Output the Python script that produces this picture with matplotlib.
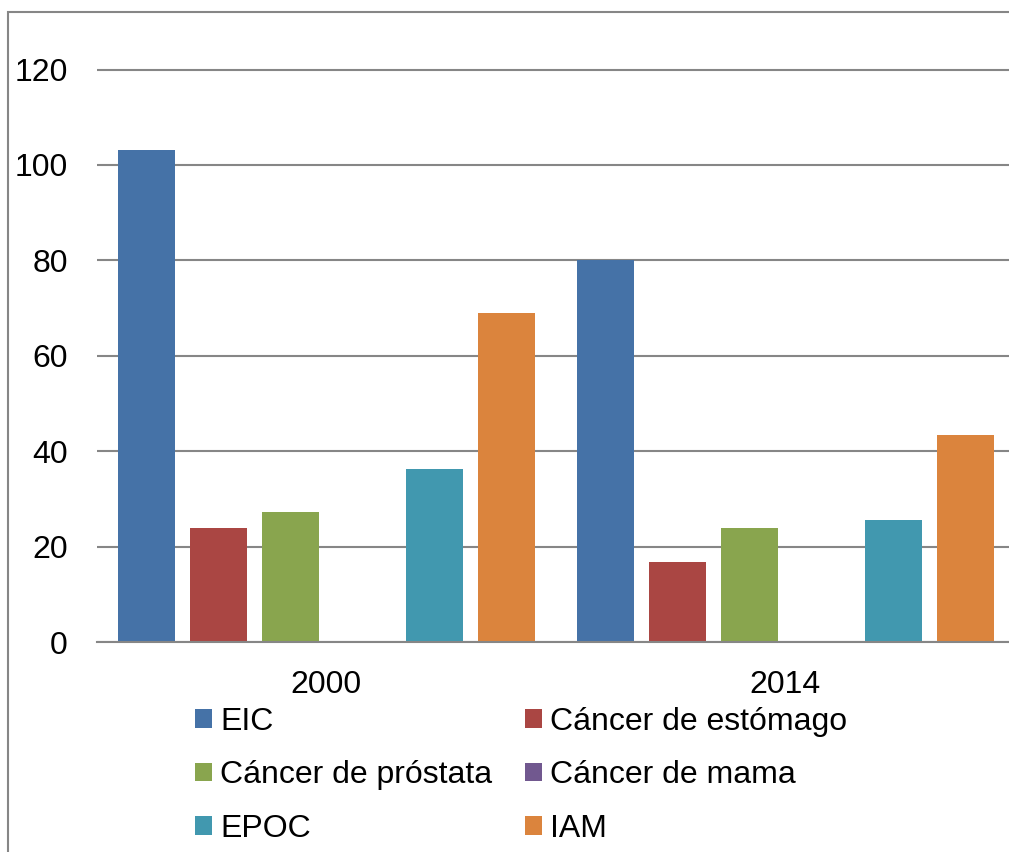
import matplotlib.pyplot as plt
import numpy as np
from matplotlib.patches import Rectangle, Patch

plt.rcParams['font.family'] = ['Liberation Sans', 'DejaVu Sans']

# Data
years = ['2000', '2014']
series = ['EIC', 'Cáncer de estómago', 'Cáncer de próstata', 'Cáncer de mama', 'EPOC', 'IAM']
values = {
    'EIC': [103.2, 80.1],
    'Cáncer de estómago': [23.9, 16.8],
    'Cáncer de próstata': [27.3, 23.9],
    'Cáncer de mama': [0, 0],
    'EPOC': [36.3, 25.6],
    'IAM': [69.0, 43.4],
}
colors = ['#4572A7', '#AA4643', '#89A54E', '#71588F', '#4198AF', '#DB843D']

W, H = 1009, 852
fig = plt.figure(figsize=(W / 100, H / 100), dpi=100)

# outer chart frame (right and bottom edges fall outside the picture)
fig.patches.append(Rectangle((8 / W, -0.1), 1.2, (H - 12) / H + 0.1, transform=fig.transFigure,
                             fill=False, edgecolor='#868686', linewidth=1.5))

y_top = 120.5
px_per_unit = (642 - 69.5) / 120
top_px = 642 - y_top * px_per_unit
ax = fig.add_axes([97 / W, (H - 642) / H, (1014.5 - 97) / W, (642 - top_px) / H])

x = np.arange(len(years))
step = 0.157
width = 0.124
handles = []
for i, (name, color) in enumerate(zip(series, colors)):
    ax.bar(x + (i - 2.5) * step, values[name], width=width, color=color, zorder=3)
    handles.append(Patch(facecolor=color, label=name))

ax.set_xlim(-0.5, 1.5)
ax.set_ylim(0, y_top)
ax.set_yticks(np.arange(0, 121, 20))
ax.set_xticks(x)
ax.set_xticklabels(years)
ax.tick_params(axis='y', length=0, pad=21, labelsize=23)
ax.tick_params(axis='x', length=0, pad=20, labelsize=23)
ax.yaxis.grid(True, color='#868686', linewidth=1.5, zorder=0)
for side in ['left', 'right', 'top']:
    ax.spines[side].set_visible(False)
ax.spines['bottom'].set_color('#868686')
ax.spines['bottom'].set_linewidth(1.5)
ax.spines['bottom'].set_zorder(4)

# legend, row-major order like the original
order = [0, 2, 4, 1, 3, 5]
fig.legend([handles[k] for k in order], [series[k] for k in order],
           ncol=2, loc='upper left', bbox_to_anchor=(195 / W, (H - 707) / H),
           frameon=False, fontsize=23, handlelength=0.53, handleheight=0.53,
           handletextpad=0.25, columnspacing=1.04, labelspacing=0.73,
           borderpad=0, borderaxespad=0)

fig.savefig('out.png', dpi=100)
